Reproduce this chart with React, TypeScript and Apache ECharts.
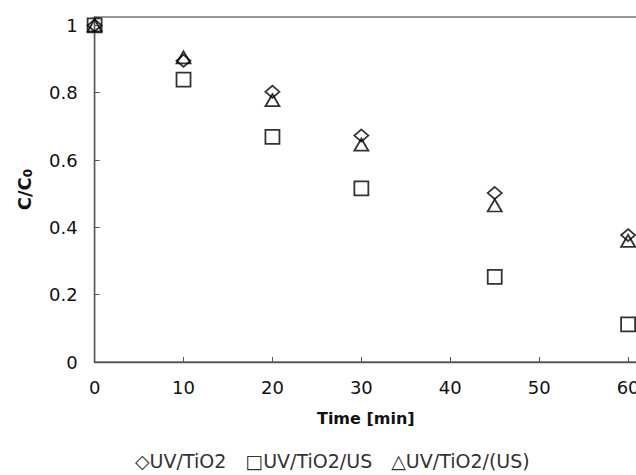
import React, { useEffect, useRef } from "react";
import * as echarts from "echarts";

const times = [0, 10, 20, 30, 45, 60];
const uvTiO2 = [1, 0.895, 0.803, 0.673, 0.502, 0.377];
const uvTiO2US = [1, 0.839, 0.669, 0.516, 0.253, 0.112];
const uvTiO2USb = [1, 0.905, 0.778, 0.646, 0.465, 0.36];
const seriesNames = ["UV/TiO2", "UV/TiO2/US", "UV/TiO2/(US)"];
const legendGlyphs = ["\u25C7", "\u25A1", "\u25B3"];
const yTicks = [0, 0.2, 0.4, 0.6, 0.8, 1];
const xTicks = [0, 10, 20, 30, 40, 50, 60];

const FONT = "'DejaVu Sans', 'Liberation Sans', Arial, sans-serif";

export default function App() {
  const ref = useRef<HTMLDivElement>(null);
  useEffect(() => {
    if (!ref.current) return;
    const chart = echarts.init(ref.current, undefined, { renderer: "svg" });
    const mk = (vals: number[]) => times.map((t, i) => [t, vals[i]]);
    const common = {
      type: "scatter",
      clip: false,
      itemStyle: { color: "transparent", borderColor: "#000", borderWidth: 1.8 },
    };
    chart.setOption({
      animation: false,
      backgroundColor: "#fff",
      textStyle: { fontFamily: FONT },
      grid: {
        left: 94.6,
        top: 17,
        right: -1,
        bottom: 113,
        containLabel: false,
        outerBoundsMode: "none",
        show: true,
        borderColor: "#777",
        borderWidth: 1.5,
      },
      xAxis: {
        type: "value",
        min: 0,
        max: 61,
        interval: 10,
        name: "Time [min]",
        nameLocation: "middle",
        nameGap: 48,
        nameTextStyle: { fontFamily: FONT, fontSize: 16, fontWeight: "bold", color: "#111" },
        axisLine: { lineStyle: { color: "#555", width: 1.3 } },
        axisTick: { inside: true, length: 5, lineStyle: { color: "#555" } },
        splitLine: { show: false },
        axisLabel: {
          fontFamily: FONT,
          fontSize: 18,
          color: "#111",
          margin: 16,
          formatter: (v: number) => (xTicks.includes(v) ? String(v) : ""),
        },
      },
      yAxis: {
        type: "value",
        min: 0,
        max: 1.025,
        interval: 0.2,
        name: "{a|C/C}{b|0}",
        nameLocation: "middle",
        nameGap: 61,
        nameTextStyle: {
          rich: {
            a: { fontFamily: FONT, fontSize: 18, fontWeight: "bold", color: "#111", lineHeight: 22, verticalAlign: "bottom" },
            b: { fontFamily: FONT, fontSize: 12, fontWeight: "bold", color: "#111", lineHeight: 16, verticalAlign: "bottom" },
          },
        },
        axisLine: { show: true, lineStyle: { color: "#555", width: 1.3 } },
        axisTick: { show: true, inside: true, length: 5, lineStyle: { color: "#555" } },
        splitLine: { show: false },
        axisLabel: {
          fontFamily: FONT,
          fontSize: 18,
          color: "#111",
          margin: 17,
          formatter: (v: number) => {
            const r = Math.round(v * 10) / 10;
            return yTicks.some((t) => Math.abs(t - v) < 1e-6) ? String(r) : "";
          },
        },
      },
      legend: {
        left: 129,
        top: 446,
        itemWidth: 0,
        itemHeight: 0,
        itemGap: 18,
        icon: "rect",
        data: seriesNames,
        formatter: (name: string) => legendGlyphs[seriesNames.indexOf(name)] + name,
        textStyle: { fontFamily: FONT, fontSize: 19, color: "#333", padding: [0, 0, 0, -5] },
      },
      series: [
        { ...common, name: seriesNames[0], symbol: "diamond", symbolSize: [14, 12], data: mk(uvTiO2) },
        { ...common, name: seriesNames[1], symbol: "rect", symbolSize: [14, 14], data: mk(uvTiO2US) },
        { ...common, name: seriesNames[2], symbol: "triangle", symbolSize: [14, 12], data: mk(uvTiO2USb) },
      ],
    });
    return () => chart.dispose();
  }, []);
  return (
    <div
      ref={ref}
      style={{ position: "fixed", left: 0, top: 0, width: 636, height: 475, background: "#fff" }}
    />
  );
}
